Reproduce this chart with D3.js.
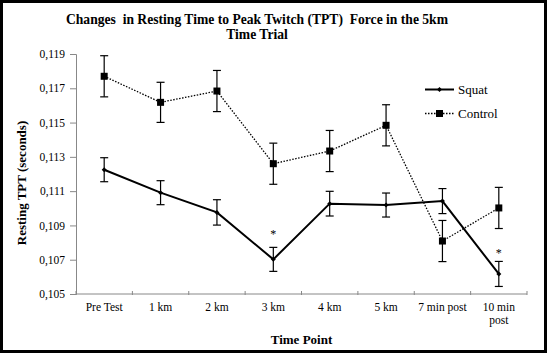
<!DOCTYPE html>
<html><head><meta charset="utf-8">
<script src="https://cdn.jsdelivr.net/npm/d3@7"></script>
<style>
html,body{margin:0;padding:0;background:#fff;}
svg{display:block;}
svg text{font-family:"Liberation Serif","DejaVu Serif",serif !important;fill:#000;}
</style></head>
<body>
<svg id="chart" width="548" height="355"></svg>
<script>
const categories = ["Pre Test","1 km","2 km","3 km","4 km","5 km","7 min post","10 min post"];
const squatValues = [0.11225,0.11091,0.10976,0.10702,0.11027,0.11019,0.11042,0.10617];
const squatErrors = [0.0007,0.0007,0.00074,0.0007,0.00072,0.0007,0.00073,0.00073];
const controlValues = [0.1177,0.11618,0.11684,0.1126,0.11334,0.11484,0.10809,0.11002];
const controlErrors = [0.0012,0.00117,0.0012,0.0012,0.0012,0.0012,0.0012,0.0012];
const asterisks = [{cat:"3 km", value:0.10827},{cat:"10 min post", value:0.10716}];
const yTicks = [0.105,0.107,0.109,0.111,0.113,0.115,0.117,0.119];
const titleLines = ["Changes  in Resting Time to Peak Twitch (TPT)  Force in the 5km","Time Trial"];

(function(){
const svg = d3.select("#chart").attr("font-family","Liberation Serif, serif");
const mLeft = 76, mRight = 527, mTop = 54, mBottom = 294;

svg.append("rect").attr("x",1.5).attr("y",1.5).attr("width",544).attr("height",350)
  .attr("fill","#fff").attr("stroke","#000").attr("stroke-width",3);

const x = d3.scaleBand().domain(categories).range([mLeft,mRight]).padding(0);
const y = d3.scaleLinear().domain([0.105,0.119]).range([mBottom,mTop]);
const cx = d => x(d) + x.bandwidth()/2;

// title
svg.append("text").attr("x",257).attr("y",24).attr("text-anchor","middle")
  .style("font-weight","bold").style("font-size","13.6px").style("white-space","pre")
  .selectAll("tspan").data(titleLines).join("tspan")
  .attr("x",257).attr("dy",(d,i)=>i===0?0:14.7).text(d=>d);

// y axis
const yAxis = d3.axisLeft(y).tickValues(yTicks).tickSize(6).tickPadding(5)
  .tickFormat(d => d3.format(".3f")(d).replace(".",","));
const gy = svg.append("g").attr("transform",`translate(${mLeft},0)`).call(yAxis)
  .attr("font-family",null).attr("font-size",null);
gy.select(".domain").attr("stroke","#888");
gy.selectAll(".tick line").attr("stroke","#888");
gy.selectAll(".tick text").style("font-size","11.5px").attr("fill","#000");

// x axis
const gx = svg.append("g").attr("transform",`translate(0,${mBottom})`);
gx.append("line").attr("x1",mLeft).attr("x2",mRight).attr("y1",0).attr("y2",0).attr("stroke","#888");
const boundaries = categories.map(c => x(c)).concat([mRight]);
gx.selectAll(".tk").data(boundaries).join("line").attr("class","tk")
  .attr("x1",d=>d).attr("x2",d=>d).attr("y1",-3).attr("y2",1).attr("stroke","#888");
gx.selectAll(".lbl").data(categories).join("text").attr("class","lbl")
  .attr("text-anchor","middle").style("font-size","11.5px")
  .each(function(d){
    const t = d3.select(this);
    const lines = d === "10 min post" ? ["10 min","post"] : [d];
    t.selectAll("tspan").data(lines).join("tspan")
      .attr("x",cx(d)).attr("y",(l,i)=>17 + i*13).text(l=>l);
  });

// axis titles
svg.append("text").attr("x",(mLeft+mRight)/2).attr("y",344).attr("text-anchor","middle")
  .style("font-weight","bold").style("font-size","13px").text("Time Point");
svg.append("text").attr("transform","translate(26,183) rotate(-90)").attr("text-anchor","middle")
  .style("font-weight","bold").style("font-size","13px").text("Resting TPT (seconds)");

// series
const series = [
  {name:"Control", vals:controlValues, errs:controlErrors, dash:"1.5,1.5", width:1.3, marker:"square"},
  {name:"Squat", vals:squatValues, errs:squatErrors, dash:null, width:2, marker:"diamond"}
];
const line = d3.line().x((d,i)=>cx(categories[i])).y(d=>y(d));

series.forEach(s => {
  const g = svg.append("g");
  s.vals.forEach((v,i) => {
    const xc = cx(categories[i]);
    const y1 = y(v + s.errs[i]), y2 = y(v - s.errs[i]);
    g.append("line").attr("x1",xc).attr("x2",xc).attr("y1",y1).attr("y2",y2).attr("stroke","#000").attr("stroke-width",1.2);
    g.append("line").attr("x1",xc-4).attr("x2",xc+4).attr("y1",y1).attr("y2",y1).attr("stroke","#000").attr("stroke-width",1.2);
    g.append("line").attr("x1",xc-4).attr("x2",xc+4).attr("y1",y2).attr("y2",y2).attr("stroke","#000").attr("stroke-width",1.2);
  });
  g.append("path").datum(s.vals).attr("d",line).attr("fill","none").attr("stroke","#000")
    .attr("stroke-width",s.width).attr("stroke-dasharray",s.dash);
  s.vals.forEach((v,i) => {
    const xc = cx(categories[i]), yc = y(v);
    if (s.marker==="square") {
      g.append("rect").attr("x",xc-3.5).attr("y",yc-3.5).attr("width",7).attr("height",7).attr("fill","#000");
    } else {
      g.append("path").attr("d",`M${xc},${yc-2.5}L${xc+2.5},${yc}L${xc},${yc+2.5}L${xc-2.5},${yc}Z`).attr("fill","#000");
    }
  });
});

// asterisks
svg.selectAll(".ast").data(asterisks).join("text").attr("class","ast")
  .attr("x",d=>cx(d.cat)).attr("y",d=>y(d.value)).attr("text-anchor","middle")
  .style("font-size","12px").text("*");

// legend
const legend = [
  {name:"Squat", dash:null, width:2, marker:"diamond", yy:89.5},
  {name:"Control", dash:"1.5,1.5", width:1.3, marker:"square", yy:113.5}
];
legend.forEach(l => {
  const g = svg.append("g");
  g.append("line").attr("x1",425).attr("x2",454).attr("y1",l.yy).attr("y2",l.yy)
    .attr("stroke","#000").attr("stroke-width",l.width).attr("stroke-dasharray",l.dash);
  const xc = 439.5;
  if (l.marker==="square") g.append("rect").attr("x",xc-3.5).attr("y",l.yy-3.5).attr("width",7).attr("height",7).attr("fill","#000");
  else g.append("path").attr("d",`M${xc},${l.yy-2.5}L${xc+2.5},${l.yy}L${xc},${l.yy+2.5}L${xc-2.5},${l.yy}Z`).attr("fill","#000");
  g.append("text").attr("x",458).attr("y",l.yy+4.5).style("font-size","13px").text(l.name);
});
})();
</script>
</body></html>
